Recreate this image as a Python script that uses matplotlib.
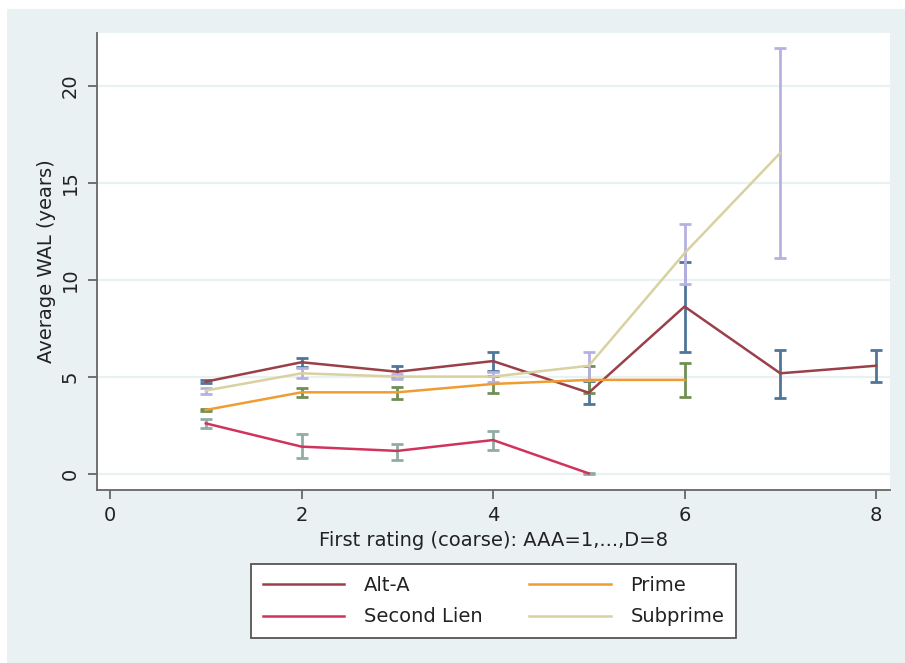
import matplotlib
matplotlib.use("Agg")
import matplotlib.pyplot as plt
from matplotlib.patches import Rectangle
import numpy as np

plt.rcParams['font.family'] = ['DejaVu Sans']

# ---- data ----
alt_x = [1, 2, 3, 4, 5, 6, 7, 8]
alt_mean = [4.76, 5.76, 5.27, 5.82, 4.19, 8.63, 5.19, 5.58]
alt_lo = [4.68, 5.50, 5.02, 5.30, 3.59, 6.31, 3.90, 4.73]
alt_hi = [4.84, 5.99, 5.58, 6.31, 4.78, 10.94, 6.40, 6.40]

prime_x = [1, 2, 3, 4, 5, 6]
prime_mean = [3.30, 4.21, 4.21, 4.64, 4.85, 4.85]
prime_lo = [3.24, 3.95, 3.87, 4.20, 4.15, 3.99]
prime_hi = [3.36, 4.45, 4.47, 5.05, 5.55, 5.74]

sl_x = [1, 2, 3, 4, 5]
sl_mean = [2.61, 1.41, 1.19, 1.75, 0.03]
sl_lo = [2.35, 0.82, 0.74, 1.24, 0.00]
sl_hi = [2.84, 2.05, 1.56, 2.22, 0.06]

sub_x = [1, 2, 3, 4, 5, 6, 7]
sub_mean = [4.30, 5.19, 5.02, 5.02, 5.58, 11.38, 16.55]
sub_lo = [4.12, 4.95, 4.88, 4.76, 4.85, 9.78, 11.12]
sub_hi = [4.45, 5.45, 5.15, 5.27, 6.30, 12.89, 21.98]

xticks = [0, 2, 4, 6, 8]
yticks = [0, 5, 10, 15, 20]

series = [
    ("Alt-A", alt_x, alt_mean, alt_lo, alt_hi, '#9a4049', '#4f7699'),
    ("Prime", prime_x, prime_mean, prime_lo, prime_hi, '#ef9c32', '#718f55'),
    ("Second Lien", sl_x, sl_mean, sl_lo, sl_hi, '#d0345b', '#91aca3'),
    ("Subprime", sub_x, sub_mean, sub_lo, sub_hi, '#d8d1a0', '#b7b1e2'),
]

W, H = 905, 663
fig = plt.figure(figsize=(W / 100, H / 100), dpi=100, facecolor='white')
bg = '#eaf1f3'
fig.patches.append(Rectangle((7 / W, 0), 1 - 7 / W, (H - 9) / H, transform=fig.transFigure,
                             facecolor=bg, edgecolor='none', zorder=-10))

ax = fig.add_axes([97 / W, 1 - 490 / H, (890 - 97) / W, (490 - 33) / H])
ax.set_facecolor('white')

# CIs
for name, x, m, lo, hi, lc, cc in series:
    x = np.array(x); m = np.array(m); lo = np.array(lo); hi = np.array(hi)
    ax.errorbar(x, m, yerr=[m - lo, hi - m], fmt='none', ecolor=cc, elinewidth=2.0,
                capsize=4.3, capthick=2.0, zorder=3)
# lines
handles = {}
for name, x, m, lo, hi, lc, cc in series:
    ln, = ax.plot(x, m, color=lc, lw=1.8, zorder=4, label=name)
    handles[name] = ln

ax.set_xlim(-0.136, 8.146)
ax.set_ylim(-0.825, 22.73)
ax.set_xticks(xticks)
ax.set_yticks(yticks)
ax.yaxis.grid(True, color=bg, lw=1.6, zorder=0)
ax.set_axisbelow(True)

for s in ['top', 'right']:
    ax.spines[s].set_visible(False)
for s in ['left', 'bottom']:
    ax.spines[s].set_color('#666666')
    ax.spines[s].set_linewidth(1.3)

fs = 14
ax.tick_params(axis='both', colors='#666666', width=1.3, length=6.5, labelsize=fs,
               labelcolor='#222222')
ax.tick_params(axis='y', pad=6)
ax.tick_params(axis='x', pad=5)
for lab in ax.get_yticklabels():
    lab.set_rotation(90)
    lab.set_va('center')

ax.set_xlabel("First rating (coarse): AAA=1,...,D=8", fontsize=fs, color='#222222', va='center')
ax.xaxis.set_label_coords(0.5, (490 - 541) / 457)
ax.set_ylabel("Average WAL (years)", fontsize=fs, color='#222222', va='center')
ax.yaxis.set_label_coords((47 - 97) / 793, 0.5)

order = ["Alt-A", "Second Lien", "Prime", "Subprime"]
leg = fig.legend([handles[n] for n in order], order, ncol=2, loc='center',
                 bbox_to_anchor=(493.5 / W, 1 - 601 / H), fontsize=fs,
                 frameon=True, fancybox=False, edgecolor='#555555', facecolor='white',
                 framealpha=1.0,
                 handlelength=4.2, handletextpad=1.0, columnspacing=2.4,
                 labelspacing=0.65, borderpad=0.6)
leg.get_frame().set_linewidth(1.3)
for t in leg.get_texts():
    t.set_color('#222222')

fig.savefig("out.png", dpi=100, facecolor='white')
